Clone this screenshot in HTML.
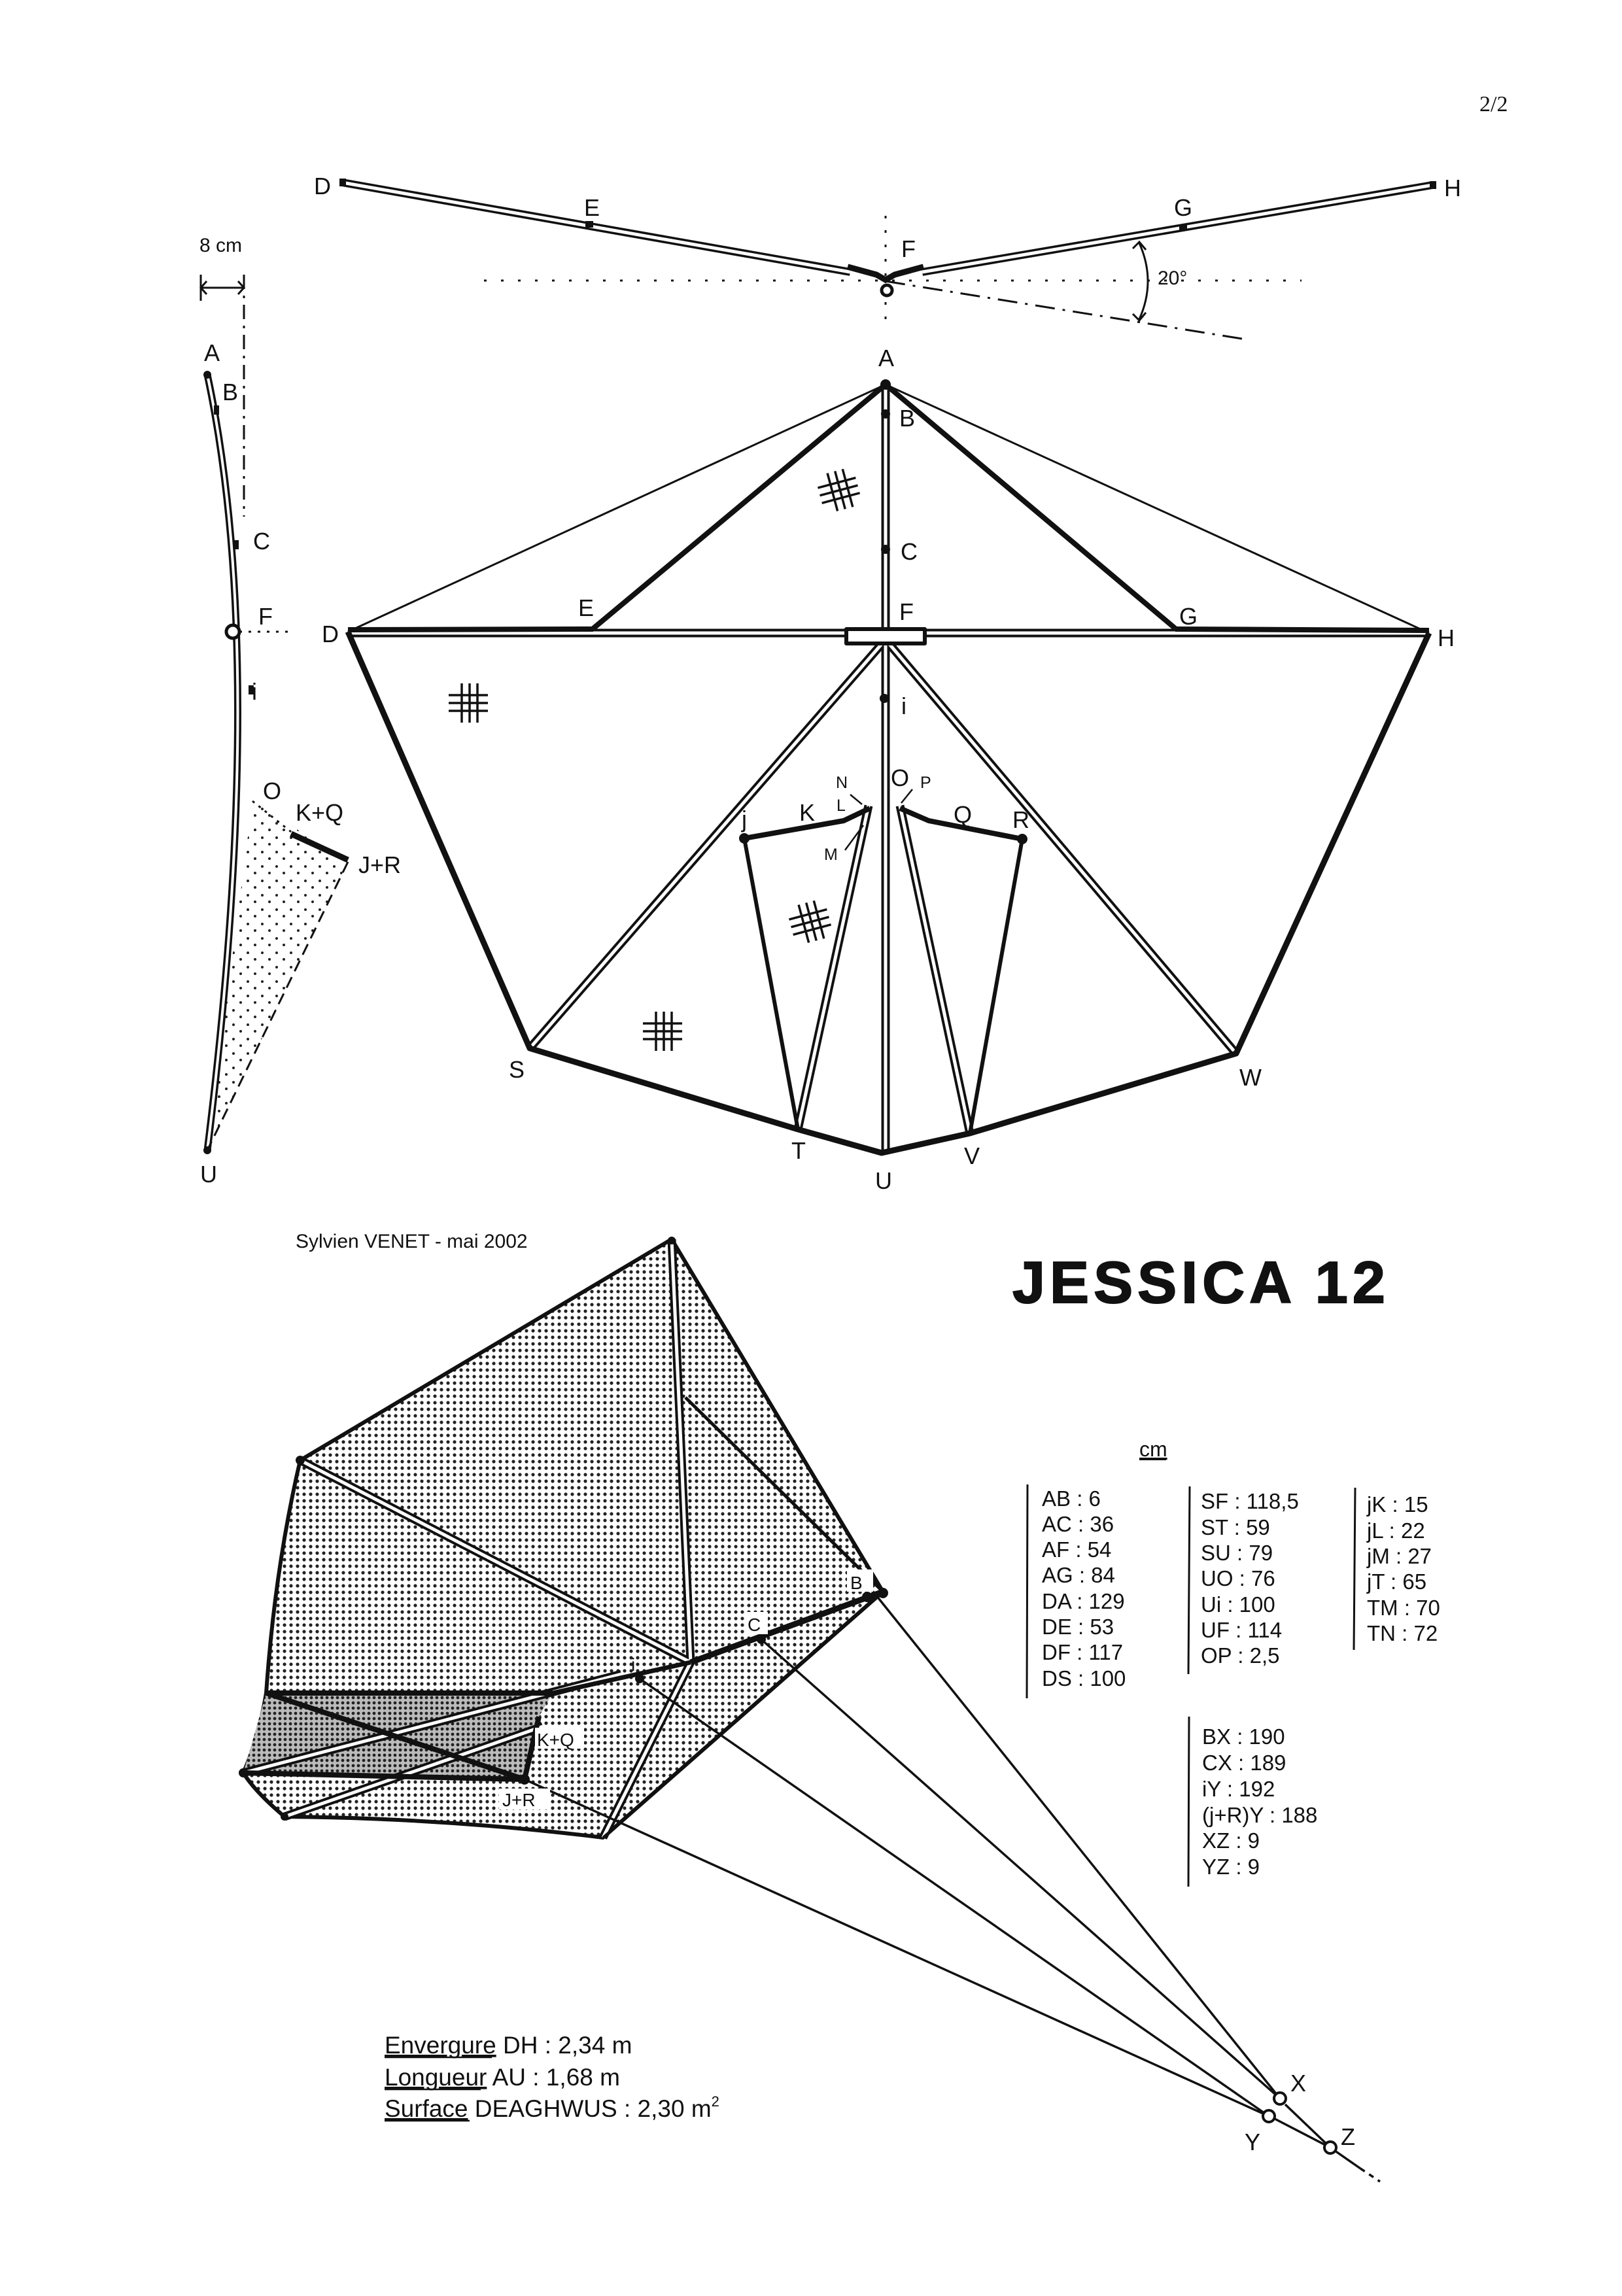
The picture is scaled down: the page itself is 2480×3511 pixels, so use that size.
<!DOCTYPE html>
<html><head><meta charset="utf-8"><style>
html,body{margin:0;padding:0;background:#fff}
svg{display:block}
text{font-family:"Liberation Sans",Arial,sans-serif;fill:#111}
</style></head><body>
<svg width="2480" height="3511" viewBox="0 0 2480 3511" xmlns="http://www.w3.org/2000/svg">
<defs>
<pattern id="dots" width="10" height="10" patternUnits="userSpaceOnUse"><circle cx="5" cy="5" r="2.6" fill="#222"/></pattern>
<pattern id="dots2" width="8" height="8" patternUnits="userSpaceOnUse"><rect width="8" height="8" fill="#bbb"/><circle cx="4" cy="4" r="2.4" fill="#222"/></pattern>
<pattern id="sdots" width="22" height="22" patternUnits="userSpaceOnUse"><circle cx="5" cy="5" r="2" fill="#222"/><circle cx="16" cy="15" r="2" fill="#222"/></pattern>
<g id="hash" stroke="#111" stroke-width="3.5"><line x1="-30" y1="-10" x2="30" y2="-10"/><line x1="-30" y1="2" x2="30" y2="2"/><line x1="-30" y1="14" x2="30" y2="14"/><line x1="-10" y1="-28" x2="-10" y2="32"/><line x1="2" y1="-28" x2="2" y2="32"/><line x1="14" y1="-28" x2="14" y2="32"/></g>
</defs>
<rect width="2480" height="3511" fill="#fff"/>
<text x="2262" y="170" font-family="Liberation Serif" font-size="34" style="font-family:'Liberation Serif',serif">2/2</text>

<!-- TOP VIEW -->
<g stroke="#111" fill="none">
<line x1="740" y1="429" x2="1990" y2="429" stroke-width="3" stroke-dasharray="4 22"/>
<line x1="1354" y1="330" x2="1354" y2="505" stroke-width="3" stroke-dasharray="4 18"/>
<line x1="1354" y1="430" x2="1905" y2="519" stroke-width="3" stroke-dasharray="30 12 4 12"/>
<line x1="523" y1="279" x2="1300" y2="416" stroke-width="12"/>
<line x1="523" y1="279" x2="1300" y2="416" stroke="#fff" stroke-width="5"/>
<line x1="1410" y1="416" x2="2190" y2="283" stroke-width="12"/>
<line x1="1410" y1="416" x2="2190" y2="283" stroke="#fff" stroke-width="5"/>
<path d="M1296,408 L1340,420 L1354,428 L1368,420 L1412,408" stroke-width="9"/>
<circle cx="1356" cy="444" r="8" stroke-width="5" fill="#fff"/>
<path d="M1742,372 Q1768,430 1742,488" stroke-width="3"/>
<path d="M1732,380 L1742,370 L1752,382 M1732,480 L1742,490 L1752,478" stroke-width="3"/>
</g>
<rect x="895" y="338" width="12" height="10" fill="#111"/>
<rect x="1803" y="343" width="12" height="10" fill="#111"/>
<rect x="519" y="273" width="10" height="12" fill="#111"/>
<rect x="2186" y="277" width="10" height="12" fill="#111"/>
<text x="480" y="297" font-size="36">D</text>
<text x="893" y="330" font-size="36">E</text>
<text x="1378" y="393" font-size="36">F</text>
<text x="1795" y="330" font-size="36">G</text>
<text x="2208" y="300" font-size="36">H</text>
<text x="1770" y="435" font-size="30">20°</text>

<!-- SIDE VIEW -->
<path d="M386,1225 L532,1318 L317,1759 Z" fill="url(#sdots)"/>
<g stroke="#111" fill="none">
<line x1="307" y1="440" x2="373" y2="440" stroke-width="3"/>
<path d="M316,430 L307,440 L316,450 M364,430 L373,440 L364,450" stroke-width="3"/>
<line x1="307" y1="420" x2="307" y2="460" stroke-width="3"/>
<line x1="373" y1="420" x2="373" y2="790" stroke-width="3" stroke-dasharray="22 10 4 10"/>
<path d="M317,573 Q410,1010 317,1759" stroke-width="11"/>
<path d="M317,573 Q410,1010 317,1759" stroke="#fff" stroke-width="4"/>
<line x1="366" y1="966" x2="450" y2="966" stroke-width="3" stroke-dasharray="4 10"/>
<circle cx="356" cy="966" r="10" stroke-width="5" fill="#fff"/>
<line x1="386" y1="1225" x2="445" y2="1272" stroke-width="3" stroke-dasharray="4 8"/>
<line x1="445" y1="1275" x2="532" y2="1315" stroke-width="9"/>
<line x1="532" y1="1318" x2="317" y2="1759" stroke-width="3" stroke-dasharray="18 10"/>
</g>
<circle cx="317" cy="573" r="6" fill="#111"/><circle cx="317" cy="1759" r="6" fill="#111"/>
<rect x="327" y="620" width="8" height="14" fill="#111"/>
<rect x="357" y="826" width="8" height="14" fill="#111"/>
<rect x="380" y="1048" width="8" height="14" fill="#111"/>
<text x="305" y="385" font-size="30">8 cm</text>
<text x="312" y="552" font-size="36">A</text>
<text x="340" y="612" font-size="36">B</text>
<text x="387" y="840" font-size="36">C</text>
<text x="395" y="955" font-size="36">F</text>
<text x="385" y="1070" font-size="36">i</text>
<text x="402" y="1222" font-size="36">O</text>
<text x="452" y="1255" font-size="36">K+Q</text>
<text x="548" y="1335" font-size="36">J+R</text>
<text x="306" y="1808" font-size="36">U</text>

<!-- MAIN KITE -->
<g stroke="#111" fill="none" stroke-linejoin="round">
<line x1="1354" y1="588" x2="532" y2="966" stroke-width="3"/>
<line x1="1354" y1="588" x2="2185" y2="968" stroke-width="3"/>
<line x1="1354" y1="588" x2="907" y2="961" stroke-width="8"/>
<line x1="1354" y1="588" x2="1797" y2="961" stroke-width="8"/>
<path d="M1354,978 L810,1603 M1354,978 L1890,1611 M1328,1232 L1220,1727 M1376,1232 L1483,1733 M532,968 L2185,968 M1354,588 L1354,1763" stroke-width="13"/>
<path d="M1354,978 L810,1603 M1354,978 L1890,1611 M1328,1232 L1220,1727 M1376,1232 L1483,1733 M532,968 L2185,968 M1354,588 L1354,1763" stroke="#fff" stroke-width="5"/>
<line x1="532" y1="963" x2="907" y2="962" stroke-width="8"/>
<line x1="1797" y1="962" x2="2185" y2="964" stroke-width="8"/>
<path d="M532,966 L810,1603 L1220,1727 L1348,1763 L1483,1733 L1890,1611 L2185,968" stroke-width="9"/>
<line x1="1138" y1="1282" x2="1220" y2="1727" stroke-width="6"/>
<line x1="1563" y1="1283" x2="1483" y2="1733" stroke-width="6"/>
<path d="M1138,1282 L1290,1255 L1330,1236" stroke-width="8"/>
<path d="M1563,1283 L1420,1255 L1376,1236" stroke-width="8"/>
<path d="M1300,1215 L1318,1230 M1395,1207 L1378,1228 M1292,1300 L1320,1262" stroke-width="2.5"/>
<rect x="1294" y="962" width="120" height="22" stroke-width="6" fill="#fff"/>
</g>
<circle cx="1354" cy="633" r="7" fill="#111"/>
<circle cx="1354" cy="840" r="7" fill="#111"/>
<circle cx="1352" cy="1068" r="7" fill="#111"/>
<circle cx="1354" cy="588" r="8" fill="#111"/>
<circle cx="1138" cy="1282" r="8" fill="#111"/><circle cx="1563" cy="1283" r="8" fill="#111"/>
<use href="#hash" x="1282" y="748" transform="rotate(-15 1282 748)"/>
<use href="#hash" x="716" y="1073"/>
<use href="#hash" x="1238" y="1408" transform="rotate(-15 1238 1408)"/>
<use href="#hash" x="1013" y="1575"/>
<g font-size="36">
<text x="1343" y="560">A</text><text x="1375" y="652">B</text><text x="1377" y="856">C</text>
<text x="1375" y="948">F</text><text x="1378" y="1092">i</text>
<text x="492" y="982">D</text><text x="884" y="942">E</text><text x="1803" y="955">G</text><text x="2198" y="988">H</text>
<text x="778" y="1648">S</text><text x="1210" y="1772">T</text><text x="1338" y="1818">U</text><text x="1474" y="1780">V</text><text x="1895" y="1660">W</text>
<text x="1134" y="1265">j</text><text x="1222" y="1255">K</text><text x="1458" y="1258">Q</text><text x="1548" y="1266">R</text>
<text x="1362" y="1202">O</text>
</g>
<g font-size="25"><text x="1278" y="1205">N</text><text x="1279" y="1240">L</text><text x="1260" y="1315">M</text><text x="1407" y="1205">P</text></g>

<!-- 3D VIEW -->
<text x="452" y="1908" font-size="30">Sylvien VENET - mai 2002</text>
<g stroke="#111" stroke-linejoin="round">
<path d="M1027,1895 L1350,2434 L922,2810 Q680,2780 435,2778 Q390,2740 372,2711 Q395,2660 407,2589 Q420,2400 459,2233 Z" fill="url(#dots)" stroke-width="6"/>
<path d="M407,2589 L845,2589 L824,2625 L802,2721 L372,2711 Z" fill="url(#dots2)" stroke-width="0"/>
<g fill="none">
<line x1="1048" y1="2137" x2="1350" y2="2434" stroke-width="5"/>
<path d="M459,2233 L1056,2542 M1027,1895 L1056,2542 M1056,2542 L922,2810 M372,2711 L950,2560 M435,2778 L830,2640" stroke-width="13"/>
<path d="M459,2233 L1056,2542 M1027,1895 L1056,2542 M1056,2542 L922,2810 M372,2711 L950,2560 M435,2778 L830,2640" stroke="#fff" stroke-width="5"/>
<line x1="1056" y1="2542" x2="1350" y2="2434" stroke-width="9"/>
<line x1="1056" y1="2542" x2="845" y2="2589" stroke-width="7"/>
<path d="M407,2589 L845,2589 M407,2589 L802,2721 L372,2711 M824,2625 L802,2721" stroke-width="8"/>
<path d="M1350,2434 L922,2810" stroke-width="4"/>
<path d="M1027,1895 L1350,2434 M1340,2440 L1957,3209 M1164,2507 L1957,3209 M978,2567 L1940,3236 M802,2721 L1940,3236 M1965,3218 L2034,3284 M1949,3240 L2034,3284 M2034,3284 L2080,3316" stroke-width="3.5"/>
<path d="M2080,3316 L2110,3336" stroke-width="3.5" stroke-dasharray="8 8"/>
</g>
<circle cx="1957" cy="3209" r="9" fill="#fff" stroke-width="4"/>
<circle cx="1940" cy="3236" r="9" fill="#fff" stroke-width="4"/>
<circle cx="2034" cy="3284" r="9" fill="#fff" stroke-width="4"/>
</g>
<g fill="#111"><circle cx="1027" cy="1897" r="6"/><circle cx="459" cy="2233" r="7"/><circle cx="1350" cy="2436" r="8"/><circle cx="1326" cy="2442" r="8"/><circle cx="1164" cy="2507" r="7"/><circle cx="978" cy="2567" r="7"/><circle cx="802" cy="2721" r="8"/><circle cx="372" cy="2711" r="7"/><circle cx="435" cy="2778" r="6"/></g>
<rect x="1295" y="2400" width="40" height="34" fill="#fff"/><text x="1300" y="2430" font-size="28">B</text>
<rect x="1140" y="2465" width="34" height="34" fill="#fff"/><text x="1143" y="2494" font-size="28">C</text>
<text x="965" y="2555" font-size="28">i</text>
<rect x="818" y="2642" width="75" height="32" fill="#fff"/><text x="821" y="2670" font-size="28">K+Q</text>
<rect x="763" y="2735" width="78" height="32" fill="#fff"/><text x="768" y="2762" font-size="28">J+R</text>
<text x="1973" y="3198" font-size="36">X</text>
<text x="1903" y="3288" font-size="36">Y</text>
<text x="2050" y="3280" font-size="36">Z</text>

<text x="1548" y="1992" font-size="90" font-weight="bold" letter-spacing="7" stroke="#111" stroke-width="2" fill="#555">JESSICA  12</text>

<!-- TABLES -->
<text x="1742" y="2227" font-size="32" text-decoration="underline">cm</text>
<line x1="1742" y1="2232" x2="1783" y2="2232" stroke="#111" stroke-width="2"/>
<g stroke="#111" stroke-width="3"><line x1="1571" y1="2270" x2="1570" y2="2597"/><line x1="1819" y1="2273" x2="1817" y2="2560"/><line x1="2072" y1="2275" x2="2070" y2="2523"/><line x1="1818" y1="2625" x2="1817" y2="2885"/></g>
<g font-size="33">
<text x="1593" y="2303">AB : 6</text><text x="1593" y="2342">AC : 36</text><text x="1593" y="2381">AF : 54</text><text x="1593" y="2420">AG : 84</text><text x="1593" y="2460">DA : 129</text><text x="1593" y="2499">DE : 53</text><text x="1593" y="2538">DF : 117</text><text x="1593" y="2578">DS : 100</text>
<text x="1836" y="2307">SF : 118,5</text><text x="1836" y="2347">ST : 59</text><text x="1836" y="2386">SU : 79</text><text x="1836" y="2425">UO : 76</text><text x="1836" y="2465">Ui : 100</text><text x="1836" y="2504">UF : 114</text><text x="1836" y="2543">OP : 2,5</text>
<text x="2090" y="2312">jK : 15</text><text x="2090" y="2352">jL : 22</text><text x="2090" y="2391">jM : 27</text><text x="2090" y="2430">jT : 65</text><text x="2090" y="2470">TM : 70</text><text x="2090" y="2509">TN : 72</text>
<text x="1838" y="2667">BX : 190</text><text x="1838" y="2707">CX : 189</text><text x="1838" y="2747">iY : 192</text><text x="1838" y="2787">(j+R)Y : 188</text><text x="1838" y="2826">XZ : 9</text><text x="1838" y="2866">YZ : 9</text>
</g>

<g font-size="37">
<text x="588" y="3140"><tspan text-decoration="underline">Envergure</tspan> DH : 2,34 m</text>
<text x="588" y="3189"><tspan text-decoration="underline">Longueur</tspan> AU : 1,68 m</text>
<text x="588" y="3237"><tspan text-decoration="underline">Surface</tspan> DEAGHWUS : 2,30 m<tspan font-size="22" dy="-16">2</tspan></text>
</g>
<g stroke="#111" stroke-width="2.5"><line x1="588" y1="3146" x2="752" y2="3146"/><line x1="588" y1="3195" x2="735" y2="3195"/><line x1="588" y1="3243" x2="718" y2="3243"/></g>
</svg>
</body></html>
